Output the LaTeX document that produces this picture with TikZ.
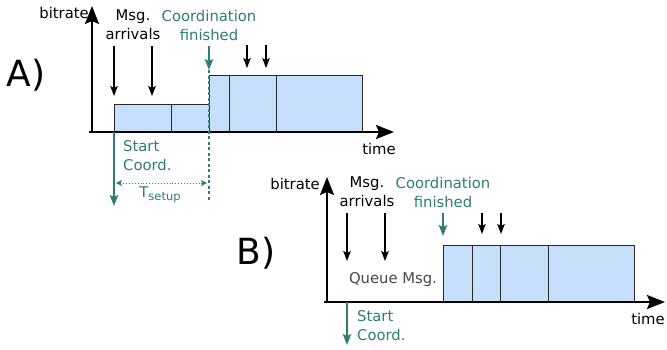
\documentclass[tikz,border=0pt]{standalone}
\usepackage{fontspec}
\setmainfont{DejaVu Sans}
\usetikzlibrary{arrows.meta}
\definecolor{tealc}{RGB}{47,125,115}
\definecolor{boxfill}{RGB}{198,224,252}
\definecolor{boxline}{RGB}{40,40,40}
\definecolor{graytext}{RGB}{70,70,70}
\begin{document}
\begin{tikzpicture}[x=1pt,y=-1pt,
  font=\fontsize{14.8}{19}\selectfont,
  lbl/.style={inner sep=0pt},
  big/.style={inner sep=0pt,font=\fontsize{36}{40}\selectfont},
  axis/.style={line width=2pt,-{Stealth[length=18pt,width=14pt,inset=3pt]}},
  msgarrow/.style={line width=1.3pt,-{Stealth[length=10pt,width=7.5pt,inset=2pt]}},
  tealarrow/.style={tealc,line width=1.5pt,-{Stealth[length=11pt,width=8.5pt,inset=2pt]}},
  bar/.style={fill=boxfill,draw=boxline,line width=1pt},
]
\useasboundingbox (0,0) rectangle (667,349);

% ---------------- A ----------------
\coordinate (aO) at (92,133);
\coordinate (aXs) at (89,132);
\coordinate (aXe) at (394,132);
\coordinate (aYe) at (92,6);

\draw[bar] (114,104) rectangle (171,132);
\draw[bar] (171,104) rectangle (209,132);
\draw[bar] (209,75) rectangle (229,132);
\draw[bar] (229,75) rectangle (276,132);
\draw[bar] (276,75) rectangle (362,132);

\draw[axis] (aO) -- (aYe);
\draw[axis] (aXs) -- (aXe);

\node[lbl,anchor=east] (abit) at (89,13) {bitrate};
\node[lbl] (atime) at (379,149) {time};
\node[lbl,align=center] (amsg) at (133,25) {Msg.\\arrivals};
\node[lbl,align=center,text=tealc] (acf) at (209,25) {Coordination\\finished};
\node[big] (aA) at (26,75) {A)};

\coordinate (am1s) at (114,46); \coordinate (am1e) at (114,96);
\coordinate (am2s) at (152,46); \coordinate (am2e) at (152,96);
\draw[msgarrow] (am1s) -- (am1e);
\draw[msgarrow] (am2s) -- (am2e);
\coordinate (am3s) at (247,45); \coordinate (am3e) at (247,68);
\coordinate (am4s) at (266,45); \coordinate (am4e) at (266,68);
\draw[msgarrow] (am3s) -- (am3e);
\draw[msgarrow] (am4s) -- (am4e);

\coordinate (acfs) at (209,46); \coordinate (acfe) at (209,70);
\coordinate (adash) at (209,201);
\draw[tealarrow] (acfs) -- (acfe);
\draw[tealc,line width=1.3pt,dash pattern=on 3pt off 2.5pt] (acfe) -- (adash);

\coordinate (ascs) at (114,132); \coordinate (asce) at (114,206);
\draw[tealarrow] (ascs) -- (asce);
\node[lbl,anchor=west,align=left,text=tealc] (asc) at (123,156) {Start\\Coord.};

\coordinate (ats) at (116,183); \coordinate (ate) at (207,183);
\draw[tealc,line width=0.9pt,dotted,{Stealth[length=6pt,width=6pt,inset=1.5pt]}-{Stealth[length=6pt,width=6pt,inset=1.5pt]}] (ats) -- (ate);
\node[lbl,text=tealc,anchor=base] (atl) at (160,197) {T\raisebox{-0.4ex}{\fontsize{11.5}{12}\selectfont setup}};

% ---------------- B ----------------
\coordinate (bO) at (327,303);
\coordinate (bXs) at (324,302);
\coordinate (bXe) at (665,302);
\coordinate (bYe) at (327,177);

\draw[bar] (443,245) rectangle (472,302);
\draw[bar] (472,245) rectangle (500,302);
\draw[bar] (500,245) rectangle (548,302);
\draw[bar] (548,245) rectangle (634,302);

\draw[axis] (bO) -- (bYe);
\draw[axis] (bXs) -- (bXe);

\node[lbl,anchor=east] (bbit) at (320,184) {bitrate};
\node[lbl] (btime) at (648,319) {time};
\node[lbl,align=center] (bmsg) at (367,192) {Msg.\\arrivals};
\node[lbl,align=center,text=tealc] (bcf) at (443,192) {Coordination\\finished};
\node[big] (bB) at (256,253) {B)};
\node[lbl,text=graytext] (bq) at (393,280) {Queue Msg.};

\coordinate (bm1s) at (347,213); \coordinate (bm1e) at (347,261);
\coordinate (bm2s) at (385,213); \coordinate (bm2e) at (385,261);
\draw[msgarrow] (bm1s) -- (bm1e);
\draw[msgarrow] (bm2s) -- (bm2e);
\coordinate (bm3s) at (482,213); \coordinate (bm3e) at (482,234);
\coordinate (bm4s) at (501,213); \coordinate (bm4e) at (501,234);
\draw[msgarrow] (bm3s) -- (bm3e);
\draw[msgarrow] (bm4s) -- (bm4e);

\coordinate (bcfs) at (443,213); \coordinate (bcfe) at (443,236);
\draw[tealarrow] (bcfs) -- (bcfe);

\coordinate (bscs) at (347,302); \coordinate (bsce) at (347,345);
\draw[tealarrow] (bscs) -- (bsce);
\node[lbl,anchor=west,align=left,text=tealc] (bsc) at (357,326) {Start\\Coord.};
\end{tikzpicture}
\end{document}
